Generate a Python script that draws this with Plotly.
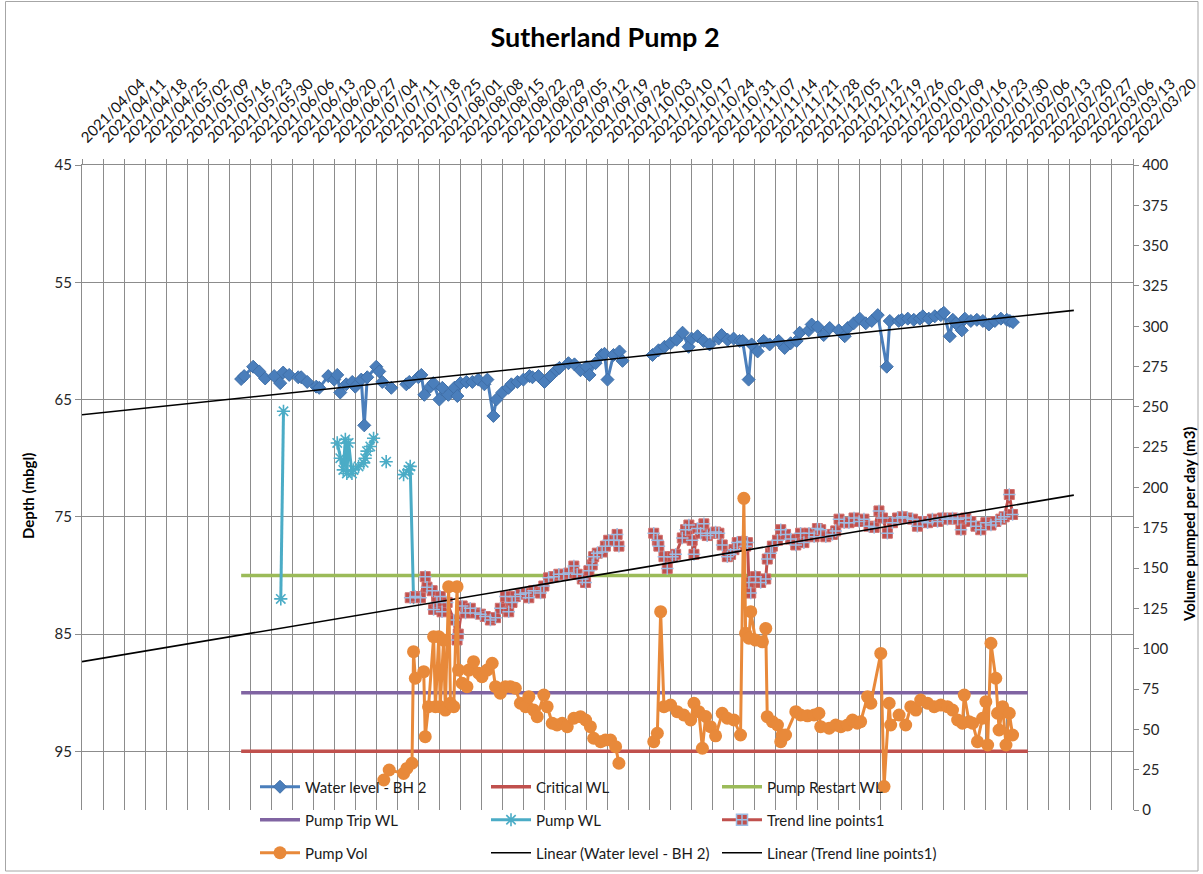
import numpy as np
import pandas as pd
import plotly.graph_objects as go

START = pd.Timestamp("2021-04-04")
AXIS_START = "2021-04-04"
AXIS_END = "2022-03-20"

# ---------------- data (days since 2021-04-04) ----------------
# Water level - BH 2 (depth, mbgl); None = missing reading
wl_day = [53, 54, 57, 59, 61, 64, 66, 67, 69, 72,
          73, 75, 78, 79, 82, 84, 85, 86, 88, 90,
          91, 93, 94, 95, 98, 99, 100, 103, 105, 108,
          109, 112, 113, 114, 116, 117, 119, 120, 122, 124,
          125, 126, 128, 130, 132, 134, 135, 137, 138, 140,
          142, 143, 145, 147, 149, 150, 152, 154, 156, 158,
          159, 162, 164, 166, 168, 169, 171, 173, 174, 175,
          177, 179, 180, 185, 190, 192, 194, 196, 198, 200,
          202, 203, 205, 207, 209, 212, 213, 215, 217, 219,
          220, 222, 223, 225, 227, 229, 232, 234, 236, 238,
          239, 242, 243, 245, 247, 249, 252, 254, 255, 257,
          259, 261, 263, 265, 268, 269, 272, 273, 275, 277,
          279, 280, 282, 284, 286, 287, 289, 290, 291, 293,
          294, 296, 298, 300, 302, 304, 306, 308, 309, 310]
wl_depth = [63.25, 63.0, 62.2, 62.6, 63.2, 63.0, 63.6, 62.7, 62.9, 63.1,
            63.1, 63.5, 63.9, 64.0, 63.0, 63.3, 62.9, 64.4, 63.7, 63.5,
            63.9, 63.3, 67.2, 63.1, 62.2, 62.6, 63.5, 64.0, None, 63.7,
            63.5, 63.1, 62.9, 64.6, 63.9, 63.6, 65.0, 64.0, 64.6, 64.0,
            64.7, 63.6, 63.5, 63.5, 63.3, 63.7, 63.3, 66.4, 65.0, 64.4,
            64.0, 63.7, 63.5, 63.3, 63.0, 63.1, 63.0, 63.5, 63.0, 62.5,
            62.3, 61.9, 62.0, 62.5, 62.2, 62.9, 61.9, 61.2, 61.1, 63.3,
            61.2, 60.9, 61.7, None, 61.2, 60.8, 60.5, 60.2, 59.9, 59.3,
            60.5, 59.8, 59.6, 60.0, 60.3, 59.8, 59.5, 59.9, 59.8, 60.0,
            60.0, 63.3, 60.3, 60.9, 60.0, 60.3, 60.0, 60.6, 60.2, 60.0,
            59.3, 59.1, 58.6, 58.8, 59.5, 58.9, 59.1, 59.6, 58.9, 58.5,
            58.1, 58.5, 58.3, 57.8, 62.2, 58.3, 58.3, 58.2, 58.1, 58.2,
            58.1, 57.9, 58.1, 57.9, 57.8, 57.6, 59.6, 58.2, 58.5, 59.1,
            58.1, 58.3, 58.2, 58.3, 58.6, 58.3, 58.1, 58.2, 58.3, 58.4]

# Pump WL (depth while pumping)
pwl_day = [66.2, 67.1, 76, 85, 86, 87, 87.7, 88.2, 88.8, 89.9,
           90.4, 92.1, 93.8, 94.3, 94.9, 96, 97.1, 99, 101.3, 104,
           107.1, 108.8, 109.3, 110.4]
pwl_depth = [82.0, 66.0, None, 68.7, 70.0, 71.0, 68.4, 71.3, 68.7, 71.3,
             71.0, 70.7, 70.4, 70.0, 69.4, 69.0, 68.3, None, 70.3, None,
             71.4, 71.0, 70.7, 81.9]

# Trend line points1 (depth)
tp_day = [109.3, 111, 112.7, 114.3, 114.9, 116.6, 117.1, 118.2, 119.3, 119.9,
          121.6, 123.8, 124.9, 125.3, 126.6, 127.7, 129.3, 131, 132.7, 134.3,
          136, 137.7, 139.3, 141, 142.1, 143.2, 144.3, 146, 147.7, 148.8,
          150.4, 152.7, 153.8, 155.4, 157.1, 158.8, 160.4, 162.1, 163.8, 164.9,
          166.6, 167.7, 168.8, 169.9, 170.4, 171.6, 173.2, 174.3, 175.4, 177.1,
          178.2, 178.8, 184, 190.4, 191.6, 192.1, 193.8, 194.9, 196.6, 197.7,
          199.9, 201, 202.1, 203.2, 203.8, 204.9, 206, 207.1, 208.2, 209.3,
          211, 212.1, 213.2, 214.9, 216, 217.1, 218.2, 219.9, 221, 221.6,
          222.1, 222.7, 224.3, 226, 227.7, 228.2, 229.3, 229.9, 231.6, 232.7,
          234.3, 236, 237.7, 239.3, 240.4, 242.1, 243.8, 244.9, 246, 247.7,
          249.9, 251, 252.1, 253.8, 255.4, 257.1, 258.8, 260.4, 262.1, 263.8,
          265.4, 266.6, 268.2, 269.9, 271.6, 273.2, 274.9, 276.6, 278.2, 279.9,
          281.6, 283.2, 284.9, 286.6, 288.2, 289.9, 291.6, 292.7, 294.3, 296,
          297.7, 299.3, 301, 302.7, 304.3, 306, 307.1, 308.8, 309.9]
tp_depth = [81.9, 81.8, 81.9, 80.1, 81.0, 81.3, 82.9, 82.3, 81.8, 83.1,
            82.3, 83.8, 85.5, 85.0, 82.6, 83.2, 82.8, 83.2, 83.3, 83.5,
            83.8, 83.6, 82.8, 81.8, 83.1, 82.3, 81.8, 81.6, 81.5, 81.9,
            81.3, 81.5, 80.9, 80.2, 80.1, 79.9, 79.9, 79.8, 79.2, 79.9,
            80.3, 80.6, 79.6, 79.1, 78.4, 78.1, 78.0, 77.5, 77.0, 77.0,
            76.5, 77.5, None, 76.4, 77.0, 77.5, 78.4, 79.4, 78.4, 78.2,
            76.8, 76.1, 75.7, 77.0, 78.2, 76.0, 76.4, 75.6, 76.6, 76.4,
            76.3, 76.4, 77.4, 78.4, 78.2, 77.8, 77.2, 77.1, 77.5, 77.2,
            80.6, 81.5, 80.1, 80.6, 80.3, 78.6, 78.1, 77.5, 77.0, 76.1,
            76.5, 76.9, 77.4, 76.4, 77.2, 76.4, 76.7, 76.0, 76.1, 76.7,
            76.5, 76.2, 75.2, 75.5, 75.5, 75.1, 75.4, 75.2, 75.8, 75.9,
            74.5, 75.1, 76.4, 75.5, 75.1, 75.0, 75.1, 75.2, 75.8, 75.4,
            75.5, 75.2, 75.4, 75.1, 75.2, 75.1, 75.2, 76.1, 75.1, 75.4,
            75.8, 76.1, 75.5, 75.7, 75.4, 75.2, 75.0, 73.1, 74.8]

# Pump Vol (m3 per day, secondary axis)
pv_day = [100.5, 102.3, 107.1, 108.2, 109.9, 110.4, 111, 113.8, 114.3, 115.4,
          117.1, 117.7, 118.8, 119.3, 120.4, 121, 122.1, 122.7, 123.8, 124.9,
          125.4, 126.6, 128.2, 128.8, 130.4, 132.1, 133.2, 134.9, 136.6, 137.7,
          139.3, 141, 142.7, 144.3, 146, 147.7, 148.8, 150.4, 151.6, 153.8,
          154.9, 156.6, 158.2, 159.9, 161.6, 163.8, 166, 167.7, 169.3, 170.4,
          172.7, 174.3, 176, 177.7, 178.8, 184, 190.4, 191.6, 192.7, 193.8,
          196, 198.2, 200.4, 202.7, 203.8, 205.4, 206.6, 207.7, 209.3, 211,
          213.2, 214.9, 217.1, 219.3, 220.4, 221, 222.1, 222.7, 224.3, 226.6,
          227.7, 228.2, 229.9, 231.6, 232.7, 233.2, 234.3, 237.7, 239.3, 241.6,
          243.8, 245.4, 246, 248.8, 251, 252.7, 254.9, 256.6, 258.2, 259.3,
          261.6, 262.7, 266, 267.1, 268.8, 269.3, 272.1, 274.3, 276, 277.7,
          279.3, 281.6, 283.8, 286, 288.2, 289.9, 291.6, 293.2, 293.8, 295.4,
          296.6, 298.2, 299.9, 301, 301.6, 302.7, 304.3, 304.9, 305.4, 306.6,
          307.7, 308.8, 309.9]
pv_vol = [18.6, 24.8, 22.7, 25.8, 29.0, 98.2, 81.7, 85.8, 45.5, 64.1,
          107.5, 64.1, 107.5, 64.1, 105.4, 62.0, 138.5, 66.2, 64.1, 138.5,
          86.8, 78.6, 76.5, 86.8, 92.0, 84.8, 82.7, 86.8, 91.0, 76.5,
          72.4, 76.5, 76.5, 75.5, 66.2, 64.1, 70.3, 62.0, 57.9, 71.3,
          64.1, 53.8, 52.7, 53.8, 51.7, 56.9, 57.9, 55.8, 51.7, 44.5,
          42.4, 43.4, 43.4, 39.3, 29.0, None, 42.4, 47.6, 123.0, 64.1,
          65.1, 61.0, 58.9, 55.8, 66.2, 61.0, 38.3, 58.0, 51.7, 46.0,
          60.0, 56.9, 55.8, 46.5, 193.3, 109.6, 106.5, 123.0, 105.4, 104.3,
          112.6, 57.9, 54.8, 52.7, 42.4, 46.5, 46.5, 61.0, 58.9, 58.4,
          58.9, 60.0, 51.7, 50.7, 52.7, 51.7, 52.7, 55.8, 53.8, 54.8,
          70.3, 66.2, 97.1, 14.5, 66.2, 52.7, 58.9, 52.7, 64.1, 62.0,
          68.2, 66.2, 64.1, 65.1, 64.1, 62.0, 55.8, 53.8, 71.3, 54.8,
          53.8, 42.4, 56.9, 67.2, 40.3, 103.4, 81.7, 60.0, 49.6, 64.1,
          40.3, 60.0, 46.5]

# Threshold lines (depth) over the monitoring period
thr_day = [53, 315]
critical_wl = [95, 95]
restart_wl = [80, 80]
trip_wl = [90, 90]

# Linear trendlines (as drawn by the spreadsheet, incl. forecast)
lin_day = [0, 330.3]
lin_wl = [66.3, 57.4]
lin_tp = [87.35, 73.15]

# ---------------- helpers ----------------
def to_dates(days):
    return START + pd.to_timedelta(np.array(days, dtype=float), unit="D")

FONT = "Lato"
GRID = "#8C8C8C"

BLUE = "#4A7EBB"
RED = "#C0504D"
GREEN = "#9BBB59"
PURPLE = "#8064A2"
AQUA = "#4BACC6"
ORANGE = "#E8893A"
LBLUE = "#9DBCE3"

fig = go.Figure()

fig.add_trace(go.Scatter(
    x=to_dates(wl_day), y=wl_depth, name="Water level - BH 2", legend="legend",
    mode="lines+markers", line=dict(color=BLUE, width=3),
    marker=dict(symbol="diamond", size=10, color=BLUE, line=dict(color="#3F6FA8", width=1)),
    connectgaps=False, yaxis="y"))
fig.add_trace(go.Scatter(
    x=to_dates(thr_day), y=critical_wl, name="Critical WL", legend="legend",
    mode="lines", line=dict(color=RED, width=3.5), yaxis="y"))
fig.add_trace(go.Scatter(
    x=to_dates(thr_day), y=restart_wl, name="Pump Restart WL", legend="legend",
    mode="lines", line=dict(color=GREEN, width=3.5), yaxis="y"))
fig.add_trace(go.Scatter(
    x=to_dates(thr_day), y=trip_wl, name="Pump Trip WL", legend="legend2",
    mode="lines", line=dict(color=PURPLE, width=3.5), yaxis="y"))
fig.add_trace(go.Scatter(
    x=to_dates(pwl_day), y=pwl_depth, name="Pump WL", legend="legend2",
    mode="lines+markers", line=dict(color=AQUA, width=3),
    marker=dict(symbol="asterisk-open", size=11, color=AQUA, line=dict(color=AQUA, width=1.6)),
    connectgaps=False, yaxis="y"))
# Trend line points1: red squares with light-blue crosses
fig.add_trace(go.Scatter(
    x=to_dates(tp_day), y=tp_depth, name="Trend line points1", legend="legend2",
    mode="lines+markers", line=dict(color=RED, width=3),
    marker=dict(symbol="square", size=10, color=RED, line=dict(color="#D0706E", width=1)),
    connectgaps=False, showlegend=False, legendgroup="tp", yaxis="y"))
fig.add_trace(go.Scatter(
    x=to_dates(tp_day), y=tp_depth, name="Trend line points1", legend="legend2",
    mode="markers",
    marker=dict(symbol="cross-thin-open", size=9, color=LBLUE, line=dict(color=LBLUE, width=1.5)),
    showlegend=False, legendgroup="tp", yaxis="y", hoverinfo="skip"))
fig.add_trace(go.Scatter(
    x=[None], y=[None], name="Trend line points1", legend="legend2",
    mode="lines+markers", line=dict(color=RED, width=3),
    marker=dict(symbol="square-cross", size=11, color=RED, line=dict(color=LBLUE, width=1.5)),
    legendgroup="tp", yaxis="y"))
fig.add_trace(go.Scatter(
    x=to_dates(lin_day), y=lin_wl, name="Linear (Water level - BH 2)", legend="legend3",
    mode="lines", line=dict(color="black", width=1.6), yaxis="y"))
fig.add_trace(go.Scatter(
    x=to_dates(lin_day), y=lin_tp, name="Linear (Trend line points1)", legend="legend3",
    mode="lines", line=dict(color="black", width=1.6), yaxis="y"))
fig.add_trace(go.Scatter(
    x=to_dates(pv_day), y=pv_vol, name="Pump Vol", legend="legend3", legendrank=1,
    mode="lines+markers", line=dict(color=ORANGE, width=3),
    marker=dict(symbol="circle", size=13, color=ORANGE),
    connectgaps=False, yaxis="y2"))

# ---------------- layout ----------------
W, H = 1203, 874
L, R, T, B = 82, 70, 165, 64
pw, ph = W - L - R, H - T - B

def px_x(x):
    return (x - L) / pw

def px_y(y):
    return 1 - (y - T) / ph

legend_common = dict(
    orientation="h", entrywidth=176, entrywidthmode="pixels", itemwidth=40,
    bgcolor="rgba(0,0,0,0)", font=dict(family=FONT, size=15, color="#1a1a1a"),
    xanchor="left", yanchor="middle", x=px_x(255), traceorder="normal",
    itemclick=False, itemdoubleclick=False)

fig.update_layout(
    width=W, height=H,
    margin=dict(l=L, r=R, t=T, b=B, autoexpand=False),
    paper_bgcolor="white", plot_bgcolor="white",
    font=dict(family=FONT, color="#262626"),
    title=dict(text="<b>Sutherland Pump 2</b>", x=605 / W, xref="container",
               y=1 - 38 / H, yref="container", xanchor="center", yanchor="middle",
               font=dict(family=FONT, size=27, color="#000000")),
    xaxis=dict(
        type="date", range=[AXIS_START, AXIS_END], side="top",
        tickmode="linear", tick0=AXIS_START, dtick=7 * 86400000,
        tickformat="%Y/%m/%d", tickangle=-45, automargin=False,
        tickfont=dict(family=FONT, size=15, color="#111111"),
        showgrid=True, gridcolor=GRID, gridwidth=1.3,
        showline=True, linecolor=GRID, linewidth=1.3,
        ticks="outside", ticklen=5, tickcolor=GRID, ticklabelstandoff=7,
        zeroline=False, anchor="y"),
    yaxis=dict(
        range=[100, 45], tickmode="linear", tick0=45, dtick=10, automargin=False,
        tickfont=dict(family=FONT, size=15, color="#262626"),
        showgrid=True, gridcolor=GRID, gridwidth=1.3,
        showline=True, linecolor=GRID, linewidth=1.3,
        ticks="outside", ticklen=6, tickcolor=GRID, zeroline=False),
    yaxis2=dict(
        range=[0, 400], tickmode="linear", tick0=0, dtick=25, automargin=False,
        overlaying="y", side="right",
        tickfont=dict(family=FONT, size=15, color="#262626"),
        showgrid=False, showline=True, linecolor=GRID, linewidth=1.3,
        ticks="outside", ticklen=5, tickcolor=GRID, zeroline=False),
    legend=dict(legend_common, y=px_y(787)),
    legend2=dict(legend_common, y=px_y(820)),
    legend3=dict(legend_common, y=px_y(853)),
    annotations=[
        dict(text="<b>Depth (mbgl)</b>", xref="paper", yref="paper",
             x=px_x(28), y=px_y(496), textangle=-90, showarrow=False,
             xanchor="center", yanchor="middle",
             font=dict(family=FONT, size=15, color="#000000")),
        dict(text="<b>Volume pumped per day (m3)</b>", xref="paper", yref="paper",
             x=px_x(1189), y=px_y(525), textangle=-90, showarrow=False,
             xanchor="center", yanchor="middle",
             font=dict(family=FONT, size=15, color="#000000")),
    ],
    shapes=[
        dict(type="rect", xref="paper", yref="paper",
             x0=px_x(5.5), x1=px_x(1198), y0=px_y(871), y1=px_y(1.5),
             line=dict(color="#A6A6A6", width=1), fillcolor="rgba(0,0,0,0)",
             layer="below"),
    ],
    showlegend=True,
)

fig.write_html(
    "out.html",
    config={"displayModeBar": False},
    post_script="document.body.style.margin='0';document.body.style.padding='0';",
)
